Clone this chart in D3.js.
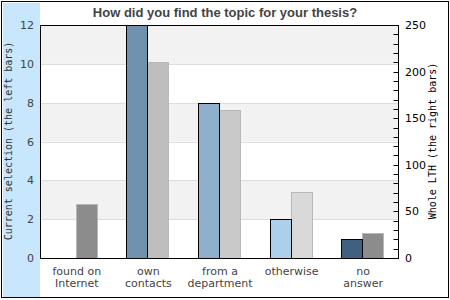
<!DOCTYPE html>
<html><head><meta charset="utf-8">
<script src="https://cdn.jsdelivr.net/npm/d3@7"></script>
<style>body{margin:0;background:#fff}svg{display:block}</style>
</head><body><svg id="c" width="450" height="300"></svg>
<script>
const categories = [["found on","Internet"],["own","contacts"],["from a","department"],["otherwise"],["no","answer"]];
const leftValues = [0, 12, 8, 2, 1];
const rightValues = [58, 210, 159, 71, 27];
const leftTicks = [0, 2, 4, 6, 8, 10, 12];
const rightTicks = [0, 50, 100, 150, 200, 250];
const leftColors = ["#7192ae", "#7192ae", "#8fb0cc", "#acd0ec", "#3f6080"];
const rightColors = ["#8c8c8c", "#bebebe", "#c9c9c9", "#d9d9d9", "#8c8c8c"];
const title = "How did you find the topic for your thesis?";
const leftTitle = "Current selection (the left bars)";
const rightTitle = "Whole LTH (the right bars)";

const svg = d3.select("#c");
const m = {l: 40, r: 398, t: 25, b: 258};
svg.append("rect").attr("x",1.5).attr("y",1.5).attr("width",447).attr("height",296).attr("fill","#fff").attr("stroke","#000");
svg.append("rect").attr("x",3).attr("y",3).attr("width",37).attr("height",294).attr("fill","#c8e6fc");

const x = d3.scaleBand().domain(d3.range(categories.length)).range([m.l, m.r]);
const yL = d3.scaleLinear().domain([0, 12]).range([m.b, m.t]);
const yR = d3.scaleLinear().domain([0, 250]).range([m.b, m.t]);

for (let i = 0; i < leftTicks.length - 1; i++) {
  svg.append("rect").attr("x", m.l).attr("width", m.r - m.l)
    .attr("y", yL(leftTicks[i+1])).attr("height", yL(leftTicks[i]) - yL(leftTicks[i+1]))
    .attr("fill", i % 2 === 0 ? "#fff" : "#f2f2f2");
}
svg.append("g").selectAll("line").data(leftTicks.slice(1, -1)).join("line")
  .attr("x1", m.l).attr("x2", m.r).attr("y1", d => Math.round(yL(d)) + 0.5).attr("y2", d => Math.round(yL(d)) + 0.5)
  .attr("stroke", "#dddddd");

const bw = 21;
const cx = i => Math.round(x(i) + x.bandwidth()/2);
svg.append("g").selectAll("rect").data(rightValues.map((v,i)=>({v,i}))).join("rect")
  .attr("x", d => cx(d.i) + 0.5)
  .attr("width", bw)
  .attr("y", d => Math.round(yR(d.v)) + 0.5)
  .attr("height", d => m.b - Math.round(yR(d.v)))
  .attr("fill", d => rightColors[d.i]).attr("stroke", "#b8b8b8");
svg.append("g").selectAll("rect").data(leftValues.map((v,i)=>({v,i})).filter(d => d.v > 0)).join("rect")
  .attr("x", d => cx(d.i) - bw + 0.5)
  .attr("width", bw)
  .attr("y", d => Math.round(yL(d.v)) + 0.5)
  .attr("height", d => m.b - Math.round(yL(d.v)))
  .attr("fill", d => leftColors[d.i]).attr("stroke", "#000");

svg.append("rect").attr("x", m.l + 0.5).attr("y", m.t + 0.5).attr("width", m.r - m.l).attr("height", m.b - m.t)
  .attr("fill", "none").attr("stroke", "#000");

const minor = d3.range(10, 250, 10);
svg.append("g").selectAll("line").data(minor).join("line")
  .attr("x1", m.r + 0.5).attr("x2", m.r - 4.5)
  .attr("y1", d => Math.round(yR(d)) + 0.5).attr("y2", d => Math.round(yR(d)) + 0.5)
  .attr("stroke", "#000");

const font = "DejaVu Sans, sans-serif";
svg.append("g").selectAll("text").data(leftTicks).join("text")
  .attr("x", 34).attr("y", d => yL(d) + 4).attr("text-anchor", "end")
  .attr("font-family", font).attr("font-size", 11).attr("fill", "#444").text(d => d);
svg.append("g").selectAll("text").data(rightTicks).join("text")
  .attr("x", 405).attr("y", d => yR(d) + 4).attr("text-anchor", "start")
  .attr("font-family", font).attr("font-size", 11).attr("fill", "#000").text(d => d);

svg.append("g").selectAll("text").data(categories).join("text")
  .attr("x", (d,i) => x(i) + x.bandwidth()/2 + 1).attr("y", 275)
  .attr("text-anchor", "middle").attr("font-family", font).attr("font-size", 11).attr("fill", "#444")
  .each(function(d){ const tx = d3.select(this).attr("x"); d3.select(this).selectAll("tspan").data(d).join("tspan")
    .attr("x", tx).attr("dy", (t,j) => j === 0 ? 0 : 12).text(t => t); });

svg.append("text").attr("x", 225).attr("y", 17).attr("text-anchor", "middle")
  .attr("font-family", "Liberation Sans, Arial, sans-serif").attr("font-weight", "bold").attr("font-size", 13)
  .attr("fill", "#444").text(title);

svg.append("text").attr("transform", "translate(12,141) rotate(-90)").attr("text-anchor", "middle")
  .attr("font-family", "DejaVu Sans Mono, monospace").attr("font-size", 10).attr("fill", "#333").text(leftTitle);
svg.append("text").attr("transform", "translate(436,141) rotate(-90)").attr("text-anchor", "middle")
  .attr("font-family", "DejaVu Sans Mono, monospace").attr("font-size", 10).attr("fill", "#000").text(rightTitle);
</script></body></html>
